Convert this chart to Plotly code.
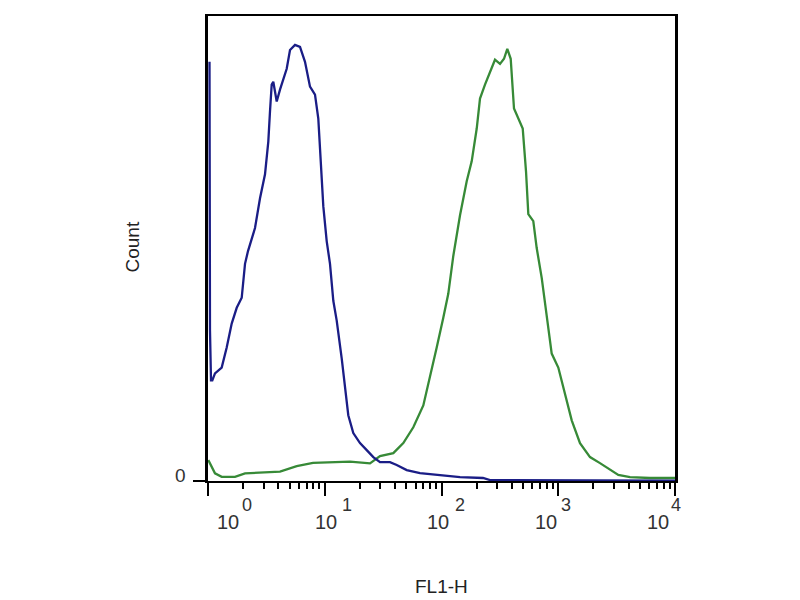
import plotly.graph_objects as go

# ---- data (FL1-H value, count) ----
blue_fl1 = [1.030, 1.040, 1.061, 1.089, 1.148, 1.310, 1.446, 1.596, 1.762, 1.944,
            2.075, 2.201, 2.527, 2.789, 3.078, 3.285, 3.396, 3.512, 3.625, 3.877,
            4.137, 4.416, 4.722, 5.040, 5.563, 6.138, 6.774, 7.476, 8.251, 8.806,
            9.288, 9.719, 10.39, 11.09, 11.84, 12.66, 13.97, 14.91, 15.91, 17.56,
            20.04, 22.88, 26.05, 29.73, 36.22, 41.33, 50.35, 65.43, 97.1, 144.1,
            226.7, 260.3, 10000]
blue_count = [180.3, 64.7, 43.3, 43.3, 46.3, 48.8, 57.4, 67.7, 74.5, 78.8,
              93.4, 98.9, 108.8, 121.6, 131.9, 146.0, 158.9, 170.5, 171.7, 163.2,
              168.3, 172.6, 177.3, 185.4, 187.6, 186.7, 180.3, 169.6, 166.2, 155.9,
              137.5, 118.2, 103.2, 93.4, 77.5, 69.0, 52.7, 39.0, 28.3, 20.6,
              16.3, 13.3, 10.3, 8.1, 8.1, 6.9, 4.7, 3.4, 2.6, 1.7,
              1.3, 0.4, 0.2]

green_fl1 = [1.006, 1.061, 1.148, 1.310, 1.703, 2.075, 2.959, 4.137, 5.752, 7.933,
             16.46, 24.41, 29.73, 38.66, 47.09, 57.35, 69.86, 79.70, 90.97, 103.6,
             114.3, 126.2, 144.1, 164.4, 181.4, 200.3, 213.7, 235.8, 260.3, 287.2,
             317.1, 343.1, 366.2, 391.5, 417.8, 454.9, 496.2, 529.5, 554.1, 611.4,
             653.8, 721.6, 796.3, 878.9, 1001, 1142, 1304, 1536, 1871, 2278,
             2775, 3269, 4118, 6108, 10000]
green_count = [9.0, 6.4, 3.3, 1.8, 1.8, 3.3, 3.6, 4.0, 6.4, 7.8,
               8.3, 7.6, 10.7, 12.0, 16.3, 23.1, 32.5, 44.5, 57.4, 70.2,
               80.5, 96.8, 114.3, 128.9, 137.5, 151.6, 164.5, 170.5, 176.0, 181.2,
               179.4, 181.6, 185.9, 181.6, 160.2, 155.9, 151.6, 133.2, 114.8, 111.8,
               100.2, 87.4, 71.9, 54.8, 48.8, 37.7, 26.1, 16.3, 10.3, 7.7,
               4.7, 2.6, 1.7, 1.3, 1.3]

x_major = [1, 10, 100, 1000, 10000]
x_minor_mult = [2, 3, 4, 5, 6, 7, 8, 9]
tick_base = ["10", "10", "10", "10", "10"]
tick_exp = ["0", "1", "2", "3", "4"]
y_tick_label = "0"
x_title = "FL1-H"
y_title = "Count"

# ---- layout geometry (pixels); the page body adds an 8px offset ----
OFF = 8
W, H = 800 - OFF, 600 - OFF
REF_L, REF_R, REF_T, REF_B = 208, 675, 14, 481     # plot box in the reference
L, T = REF_L - OFF, REF_T - OFF
R, B = W - (REF_R - OFF), H - (REF_B - OFF)
PW, PH = REF_R - REF_L, REF_B - REF_T


def px(xp):
    return (xp - REF_L) / PW


def py(yp):
    return (REF_B - yp) / PH


fig = go.Figure()
fig.add_trace(go.Scatter(x=green_fl1, y=green_count, mode="lines",
                         line=dict(color="#378a37", width=2.3), showlegend=False))
fig.add_trace(go.Scatter(x=blue_fl1, y=blue_count, mode="lines",
                         line=dict(color="#1a1d86", width=2.3), showlegend=False))

minor_vals = [m * d for d in x_major[:-1] for m in x_minor_mult]

fig.update_layout(
    width=W, height=H,
    margin=dict(l=L, r=R, t=T, b=B, pad=0),
    paper_bgcolor="white", plot_bgcolor="white",
    font=dict(family="Liberation Sans, Arial, sans-serif", color="#222"),
    xaxis=dict(type="log", range=[0, 4], showgrid=False, zeroline=False,
               showline=True, linecolor="black", linewidth=2, mirror=True,
               tickmode="array", tickvals=x_major, showticklabels=False,
               ticks="outside", ticklen=13, tickwidth=2, tickcolor="black",
               minor=dict(tickmode="array", tickvals=minor_vals, ticks="outside",
                          ticklen=6, tickwidth=2, tickcolor="black", showgrid=False)),
    yaxis=dict(range=[0, 200], showgrid=False, zeroline=False,
               showline=True, linecolor="black", linewidth=3, mirror=True,
               tickmode="array", tickvals=[0], showticklabels=False,
               ticks="outside", ticklen=12, tickwidth=2, tickcolor="black"),
)

base_x = [227.5, 325.7, 437.5, 545.8, 657.5]
exp_x = [246.5, 347, 459.5, 565.5, 675.5]
ann = []
for i in range(len(tick_base)):
    ann.append(dict(text=tick_base[i], x=px(base_x[i]), y=py(522), xref="paper", yref="paper",
                    xanchor="center", yanchor="middle", showarrow=False,
                    font=dict(size=20, color="#333")))
    ann.append(dict(text=tick_exp[i], x=px(exp_x[i]), y=py(505), xref="paper", yref="paper",
                    xanchor="center", yanchor="middle", showarrow=False,
                    font=dict(size=18, color="#333")))
ann.append(dict(text=y_tick_label, x=px(180), y=py(475.5), xref="paper", yref="paper",
                xanchor="center", yanchor="middle", showarrow=False,
                font=dict(size=19, color="#333")))
ann.append(dict(text=y_title, x=px(132.5), y=py(246), xref="paper", yref="paper",
                xanchor="center", yanchor="middle", showarrow=False, textangle=-90,
                font=dict(size=19, color="#222")))
ann.append(dict(text=x_title, x=px(441.7), y=py(586.7), xref="paper", yref="paper",
                xanchor="center", yanchor="middle", showarrow=False,
                font=dict(size=19, color="#222")))
fig.update_layout(annotations=ann)

fig.write_html("out.html")
